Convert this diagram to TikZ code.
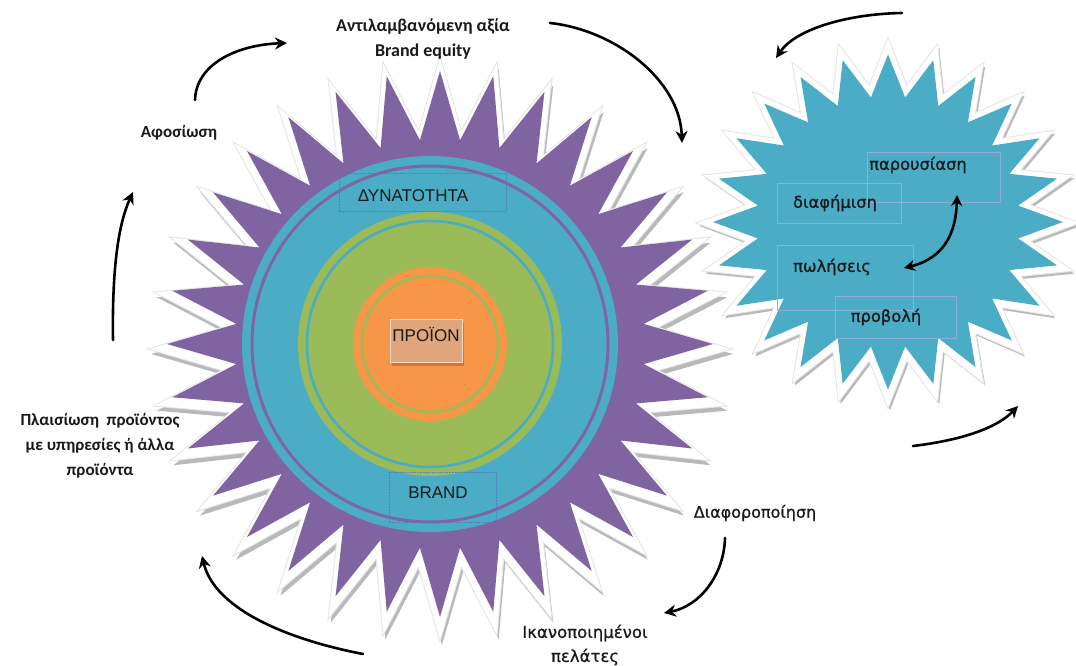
\documentclass[tikz,border=0pt]{standalone}
\usepackage{fontspec}
\setmainfont{Carlito}
\newfontfamily\verdanafont[FakeBold=0.8]{DejaVu Sans}
\newfontfamily\arialfont{Liberation Sans}
\usepackage{tikz}
\usetikzlibrary{arrows.meta}

\definecolor{starpurple}{HTML}{8064A2}
\definecolor{staraqua}{HTML}{4BACC6}
\definecolor{ringgreen}{HTML}{9BBB59}
\definecolor{coreorange}{HTML}{F79646}
\definecolor{boxtan}{HTML}{DFA67B}
\definecolor{boxshade}{HTML}{D2762E}
\definecolor{dotblue}{HTML}{5B74C0}
\definecolor{framelav}{HTML}{8FADD8}

\begin{document}
\begin{tikzpicture}[
				x=1pt, y=-1pt,
				line cap=round,
				line join=round,
				every node/.style={font=\bfseries\fontsize{17}{25}\selectfont, text=black!90},
				starshade/.style={line join=miter, draw=gray!55, fill=gray!55, line width=6pt},
				starrim/.style={line join=miter, draw=gray!20, fill=white, line width=8pt},
				starface/.style={line join=miter, draw=white, fill=white, line width=6pt},
				dotframe/.style={draw=dotblue, dotted, line width=0.9pt, inner sep=0pt},
				thinframe/.style={draw=framelav, line width=0.6pt, inner sep=0pt},
				innertext/.style={font=\arialfont\fontsize{17}{20}\selectfont},
				startext/.style={font=\verdanafont\fontsize{16.3}{20}\selectfont},
				cyclearrow/.style={line width=2.6pt, -{Stealth[length=12pt,width=12pt]}},
				pairarrow/.style={line width=2.6pt, {Stealth[length=11pt,width=11pt]}-{Stealth[length=11pt,width=11pt]}}
				]
				\useasboundingbox (0,0) rectangle (1076,666);
				
				% Big star (32 points)
				\filldraw[starshade, shift={(442,354)}] plot[samples at={0,...,63}, variable=\k]
					({\k*5.625+90}:{280*(0.875+0.125*cos(\k*180))}) -- cycle;
				\filldraw[starrim, shift={(440,349)}] plot[samples at={0,...,63}, variable=\k]
					({\k*5.625+90}:{280*(0.875+0.125*cos(\k*180))}) -- cycle;
				\filldraw[starface, shift={(440,349)}] plot[samples at={0,...,63}, variable=\k]
					({\k*5.625+90}:{280*(0.875+0.125*cos(\k*180))}) -- cycle;
				\fill[starpurple, shift={(440,344)}] plot[samples at={0,...,63}, variable=\k]
					({\k*5.625+90}:{273*(0.875+0.125*cos(\k*180))}) -- cycle;
				
				% Small star (24 points)
				\filldraw[starshade, shift={(890,226)}] plot[samples at={0,...,47}, variable=\k]
					({\k*7.5+90}:{182*(0.875+0.125*cos(\k*180))} and {176*(0.875+0.125*cos(\k*180))}) -- cycle;
				\filldraw[starrim, shift={(888,223)}] plot[samples at={0,...,47}, variable=\k]
					({\k*7.5+90}:{182*(0.875+0.125*cos(\k*180))} and {176*(0.875+0.125*cos(\k*180))}) -- cycle;
				\filldraw[starface, shift={(888,223)}] plot[samples at={0,...,47}, variable=\k]
					({\k*7.5+90}:{182*(0.875+0.125*cos(\k*180))} and {176*(0.875+0.125*cos(\k*180))}) -- cycle;
				\fill[staraqua, shift={(888,222)}] plot[samples at={0,...,47}, variable=\k]
					({\k*7.5+90}:{175*(0.875+0.125*cos(\k*180))} and {167.5*(0.875+0.125*cos(\k*180))}) -- cycle;
				
				% Circles
				\coordinate (core) at (430,344);
				\fill[staraqua] (core) circle (188pt);
				\draw[starpurple, line width=3pt] (core) circle (178pt);
				\fill[ringgreen] (core) circle (132pt);
				\draw[staraqua, line width=2.6pt] (core) circle (123pt);
				\fill[coreorange] (core) circle (77pt);
				\draw[ringgreen, line width=2.6pt] (core) circle (68pt);
				
				% Boxes in the circles
				\node[fill=boxshade, minimum width=72pt, minimum height=43pt, inner sep=0pt] (productshade) at (428,344) {};
				\node[fill=boxtan, draw=white!60!boxtan, line width=1pt, minimum width=72pt, minimum height=43pt, inner sep=0pt] (productbox) at (426,341) {};
				\node[innertext] (product) at (426,334) {ΠΡΟΪΟΝ};
				\node[dotframe, minimum width=167pt, minimum height=38pt] (abilitybox) at (423,192) {};
				\node[innertext] (ability) at (413,196) {ΔΥΝΑΤΟΤΗΤΑ};
				\node[dotframe, minimum width=107pt, minimum height=50pt] (brandbox) at (443,497) {};
				\node[innertext] (brand) at (438,493) {BRAND};
				
				% Boxes in the small star
				\node[thinframe, minimum width=133pt, minimum height=50pt] (showbox) at (934,177) {};
				\node[thinframe, minimum width=124pt, minimum height=40pt] (adbox) at (839,203) {};
				\node[thinframe, minimum width=136pt, minimum height=65pt] (salesbox) at (845,278) {};
				\node[thinframe, minimum width=121pt, minimum height=42pt] (promobox) at (896,317) {};
				\node[startext] (show) at (918,165) {παρουσίαση};
				\node[startext] (ad) at (835,203) {διαφήμιση};
				\node[startext] (sales) at (832,267) {πωλήσεις};
				\node[startext] (promo) at (886,317) {προβολή};
				
				% Outer labels
				\node[align=center, font=\bfseries\fontsize{18}{25}\selectfont] (equity) at (423,39) {Αντιλαμβανόμενη αξία\\Brand equity};
				\node (loyalty) at (179,133) {Αφοσίωση};
				\node[align=center] (bundle) at (100,446) {Πλαισίωση~ προϊόντος\\με υπηρεσίες ή άλλα\\προϊόντα};
				\node[font=\verdanafont\fontsize{16}{20}\selectfont] (differ) at (755,513) {Διαφοροποίηση};
				\node[align=center, font=\verdanafont\fontsize{16.5}{24}\selectfont] (clients) at (585,645) {Ικανοποιημένοι\\πελάτες};
				
				% Arrow ends
				\coordinate (a1) at (195,100);
				\coordinate (a2) at (287,43);
				\coordinate (b1) at (113,340);
				\coordinate (b2) at (133,192);
				\coordinate (c1) at (363,654);
				\coordinate (c2) at (202,556);
				\coordinate (d1) at (550,23);
				\coordinate (d2) at (682,143);
				\coordinate (e1) at (902,13);
				\coordinate (e2) at (776,58);
				\coordinate (f1) at (913,446);
				\coordinate (f2) at (1018,406);
				\coordinate (g1) at (725,538);
				\coordinate (g2) at (664,613);
				\coordinate (h1) at (957,195);
				\coordinate (h2) at (904,268);
				
				% Arrows
				\draw[cyclearrow] (a1) .. controls (196,65) and (235,45) .. (a2);
				\draw[cyclearrow] (b1) .. controls (112,270) and (118,225) .. (b2);
				\draw[cyclearrow] (c1) .. controls (290,640) and (215,610) .. (c2);
				\draw[cyclearrow] (d1) .. controls (615,30) and (680,80) .. (d2);
				\draw[cyclearrow] (e1) .. controls (845,14) and (795,30) .. (e2);
				\draw[cyclearrow] (f1) .. controls (955,441) and (995,430) .. (f2);
				\draw[cyclearrow] (g1) .. controls (724,575) and (700,606) .. (g2);
				\draw[pairarrow] (h1) .. controls (956,232) and (945,258) .. (h2);
			\end{tikzpicture}
\end{document}
